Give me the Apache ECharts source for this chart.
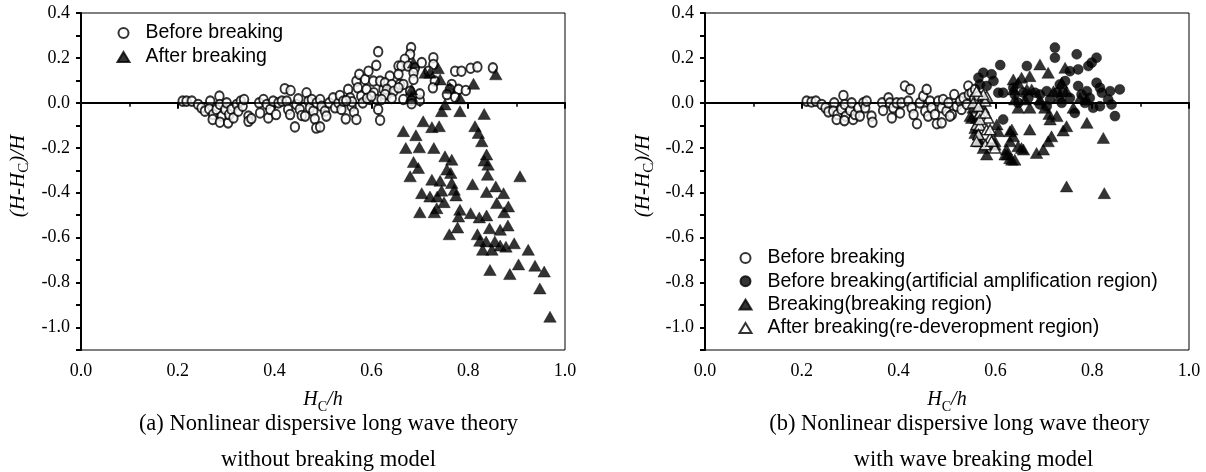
<!DOCTYPE html>
<html>
<head>
<meta charset="utf-8">
<script src="https://cdn.jsdelivr.net/npm/echarts@6/dist/echarts.min.js"></script>
<style>
  html, body { margin: 0; padding: 0; background: #fff; }
  #chart { width: 1206px; height: 472px; }
</style>
</head>
<body>
<div id="chart"></div>
<script>
// ---------------- DATA ----------------
const xTicks = [0.0, 0.2, 0.4, 0.6, 0.8, 1.0];
const yTicks = [0.4, 0.2, 0.0, -0.2, -0.4, -0.6, -0.8, -1.0];

const seriesNamesA = ['Before breaking', 'After breaking'];
const seriesNamesB = ['Before breaking', 'Before breaking(artificial amplification region)', 'Breaking(breaking region)', 'After breaking(re-deveropment region)'];

// Panel (a): [H_C/h, (H-H_C)/H]
const aBefore = [
  [0.210,0.008],[0.218,0.008],[0.229,0.008],[0.242,-0.007],[0.249,-0.022],[0.256,-0.037],[0.267,0.008],[0.265,-0.027],
  [0.273,-0.052],[0.272,-0.074],[0.280,-0.029],[0.286,0.030],[0.287,-0.007],[0.291,-0.059],[0.287,-0.086],[0.298,-0.029],
  [0.301,0.000],[0.304,-0.089],[0.306,-0.052],[0.311,-0.029],[0.315,-0.067],[0.322,-0.007],[0.325,-0.037],[0.330,0.008],
  [0.334,-0.015],[0.337,0.015],[0.346,-0.059],[0.346,-0.082],[0.352,-0.070],[0.368,0.000],[0.370,-0.045],[0.377,0.015],
  [0.384,-0.007],[0.387,-0.067],[0.391,-0.029],[0.397,0.008],[0.403,-0.052],[0.408,0.000],[0.415,0.008],[0.421,0.063],
  [0.433,0.055],[0.425,0.008],[0.428,-0.029],[0.432,-0.052],[0.442,-0.107],[0.445,-0.007],[0.449,0.018],[0.452,-0.029],
  [0.456,-0.056],[0.463,-0.059],[0.466,0.045],[0.470,0.008],[0.473,-0.022],[0.477,0.015],[0.480,-0.037],[0.483,-0.071],
  [0.486,-0.112],[0.494,-0.107],[0.487,0.000],[0.494,0.015],[0.497,-0.015],[0.504,-0.037],[0.507,-0.059],[0.513,0.000],
  [0.521,0.022],[0.525,-0.022],[0.532,0.000],[0.535,0.033],[0.538,-0.029],[0.542,0.008],[0.547,-0.071],[0.552,0.060],
  [0.556,0.022],[0.559,-0.015],[0.564,-0.041],[0.569,-0.074],[0.569,0.097],[0.572,0.067],[0.575,0.127],[0.579,0.030],
  [0.582,0.000],[0.587,0.104],[0.590,0.060],[0.594,0.141],[0.597,0.015],[0.604,0.097],[0.605,0.045],[0.610,0.167],
  [0.611,0.015],[0.614,-0.029],[0.618,-0.077],[0.618,0.097],[0.625,0.060],[0.632,0.037],[0.614,0.228],[0.682,0.246],
  [0.680,0.216],[0.669,0.194],[0.656,0.164],[0.662,0.164],[0.676,0.164],[0.690,0.156],[0.704,0.179],[0.728,0.201],
  [0.728,0.171],[0.718,0.141],[0.687,0.134],[0.638,0.119],[0.656,0.127],[0.628,0.089],[0.642,0.082],[0.659,0.082],
  [0.666,0.082],[0.687,0.104],[0.731,0.097],[0.727,0.067],[0.766,0.082],[0.762,0.060],[0.780,0.060],[0.795,0.055],
  [0.756,0.037],[0.773,0.025],[0.632,0.060],[0.646,0.052],[0.656,0.067],[0.628,0.037],[0.642,0.020],[0.666,0.015],
  [0.683,0.011],[0.700,0.011],[0.680,0.052],[0.700,0.040],[0.621,0.015],[0.683,-0.004],[0.773,0.141],[0.786,0.141],
  [0.805,0.154],[0.819,0.160],[0.851,0.156],[0.591,0.020],[0.600,0.030],[0.560,0.005],[0.548,0.010]
];
const aAfter = [
  [0.857,0.127],[0.811,0.085],[0.783,0.020],[0.752,-0.007],[0.745,-0.037],[0.783,-0.037],[0.833,-0.049],[0.707,-0.082],
  [0.725,-0.108],[0.740,-0.104],[0.666,-0.126],[0.692,-0.144],[0.814,-0.104],[0.821,-0.134],[0.828,-0.171],[0.671,-0.201],
  [0.699,-0.198],[0.729,-0.201],[0.752,-0.238],[0.766,-0.253],[0.838,-0.230],[0.833,-0.257],[0.841,-0.275],[0.687,-0.263],
  [0.697,-0.290],[0.756,-0.297],[0.764,-0.312],[0.680,-0.327],[0.840,-0.320],[0.907,-0.327],[0.725,-0.342],[0.742,-0.347],
  [0.766,-0.357],[0.809,-0.362],[0.857,-0.372],[0.771,-0.387],[0.704,-0.402],[0.721,-0.417],[0.745,-0.391],[0.838,-0.397],
  [0.873,-0.402],[0.736,-0.417],[0.775,-0.412],[0.750,-0.442],[0.859,-0.446],[0.883,-0.461],[0.735,-0.469],[0.700,-0.487],
  [0.730,-0.487],[0.783,-0.476],[0.805,-0.491],[0.823,-0.510],[0.838,-0.501],[0.874,-0.487],[0.780,-0.506],[0.778,-0.555],
  [0.761,-0.585],[0.844,-0.558],[0.866,-0.565],[0.882,-0.546],[0.819,-0.585],[0.824,-0.614],[0.837,-0.617],[0.855,-0.617],
  [0.866,-0.635],[0.878,-0.640],[0.895,-0.625],[0.830,-0.654],[0.849,-0.654],[0.924,-0.654],[0.904,-0.719],[0.938,-0.725],
  [0.845,-0.744],[0.886,-0.762],[0.957,-0.751],[0.948,-0.826],[0.969,-0.952],[0.687,0.179],[0.711,0.134],[0.738,0.154],
  [0.742,0.104],[0.683,0.060],[0.683,0.030],[0.721,0.134],[0.762,0.067]
];

// Panel (b)
const bBefore = [
  [0.210,0.008],[0.220,0.004],[0.229,0.008],[0.241,-0.007],[0.249,-0.022],[0.255,-0.040],[0.267,0.000],[0.265,-0.037],
  [0.274,-0.052],[0.272,-0.074],[0.282,-0.029],[0.286,0.033],[0.289,-0.007],[0.291,-0.059],[0.288,-0.079],[0.300,-0.034],
  [0.303,0.000],[0.306,-0.074],[0.310,-0.052],[0.317,-0.022],[0.320,-0.059],[0.327,0.000],[0.331,-0.022],[0.334,0.008],
  [0.344,-0.059],[0.346,-0.086],[0.366,0.000],[0.368,-0.034],[0.379,0.022],[0.382,0.000],[0.386,-0.067],[0.389,-0.022],
  [0.396,0.000],[0.403,-0.045],[0.406,0.000],[0.413,0.075],[0.424,0.060],[0.420,0.008],[0.427,-0.022],[0.431,-0.052],
  [0.438,-0.093],[0.444,0.000],[0.451,0.030],[0.455,-0.037],[0.458,0.060],[0.461,-0.059],[0.465,0.008],[0.468,-0.022],
  [0.475,-0.052],[0.479,-0.093],[0.489,-0.089],[0.482,0.008],[0.489,-0.022],[0.492,0.015],[0.499,-0.037],[0.503,0.000],
  [0.510,-0.052],[0.515,0.037],[0.520,-0.015],[0.527,0.008],[0.530,-0.029],[0.534,0.022],[0.544,0.075],[0.541,-0.007],
  [0.545,0.037],[0.551,0.045],[0.558,0.060],[0.556,0.020],[0.562,0.000],[0.565,0.030],[0.506,-0.059]
];
const bAmplified = [
  [0.723,0.246],[0.723,0.201],[0.768,0.216],[0.809,0.201],[0.799,0.179],[0.792,0.164],[0.610,0.168],[0.665,0.164],
  [0.754,0.141],[0.771,0.149],[0.575,0.134],[0.592,0.127],[0.596,0.097],[0.565,0.112],[0.568,0.082],[0.582,0.075],
  [0.616,0.045],[0.606,0.045],[0.637,0.067],[0.640,0.037],[0.658,0.045],[0.668,0.022],[0.682,0.045],[0.692,0.037],
  [0.706,0.052],[0.713,0.015],[0.727,0.045],[0.733,0.082],[0.744,0.097],[0.740,0.045],[0.754,0.022],[0.771,0.075],
  [0.778,0.037],[0.789,0.052],[0.795,0.022],[0.809,0.089],[0.816,0.067],[0.820,0.045],[0.837,0.052],[0.857,0.060],
  [0.833,0.015],[0.840,-0.007],[0.847,-0.059],[0.802,-0.022],[0.764,-0.045],[0.816,-0.015],[0.706,-0.015],[0.616,-0.074],
  [0.692,-0.007],[0.647,0.000],[0.785,0.000],[0.737,0.000]
];
const bBreaking = [
  [0.692,0.171],[0.709,0.134],[0.744,0.156],[0.637,0.104],[0.654,0.112],[0.671,0.119],[0.647,0.089],[0.640,0.015],
  [0.661,0.015],[0.647,-0.022],[0.671,-0.022],[0.692,0.015],[0.720,0.052],[0.733,0.030],[0.702,-0.022],[0.713,-0.074],
  [0.727,-0.059],[0.711,-0.049],[0.747,-0.104],[0.740,-0.123],[0.789,-0.089],[0.761,-0.022],[0.775,0.022],[0.789,0.015],
  [0.671,-0.119],[0.630,-0.126],[0.637,-0.149],[0.630,-0.171],[0.647,-0.193],[0.658,-0.208],[0.623,-0.208],[0.620,-0.230],
  [0.630,-0.246],[0.640,-0.253],[0.685,-0.223],[0.699,-0.208],[0.709,-0.171],[0.716,-0.149],[0.823,-0.156],[0.747,-0.372],
  [0.825,-0.402],[0.737,0.089],[0.747,0.052],[0.675,0.060],[0.665,0.060],[0.637,0.060],[0.551,-0.067],[0.558,-0.134],
  [0.565,-0.171],[0.582,-0.230],[0.599,-0.186],[0.575,-0.022],[0.561,-0.067],[0.558,-0.112],[0.565,-0.141],[0.568,-0.171],
  [0.575,-0.201],[0.603,-0.096],[0.606,-0.126],[0.599,-0.171],[0.554,-0.022],[0.548,-0.059],[0.634,-0.119],[0.625,-0.230],
  [0.634,-0.253],[0.654,-0.201]
];
const bAfter = [
  [0.582,0.030],[0.579,0.008],[0.568,-0.045],[0.585,-0.067],[0.561,-0.096],[0.568,-0.100],[0.582,-0.119],[0.565,-0.141],
  [0.589,-0.156],[0.579,-0.186],[0.599,-0.201],[0.561,-0.171],[0.568,-0.074],[0.554,0.000],[0.565,-0.015],[0.579,-0.045],
  [0.589,-0.119],[0.592,-0.171],[0.575,0.037],[0.561,0.052]
];

// ---------------- STYLE / LAYOUT ----------------
const SERIF = '"Liberation Serif", "Times New Roman", serif';
const SANS = '"Liberation Sans", Arial, sans-serif';
const GRIDS = [
  { left: 81, top: 13, width: 484, height: 337 },
  { left: 705, top: 13, width: 484, height: 337 }
];

const measureCtx = document.createElement('canvas').getContext('2d');
function textWidth(str, font) { measureCtx.font = font; return measureCtx.measureText(str).width; }

// builds a math label like (H-H_C)/H from pieces
function mathPieces(pieces, fs, subFs, subShift) {
  const children = [];
  let x = 0;
  pieces.forEach(p => {
    const size = p.sub ? subFs : fs;
    const style = p.it ? 'italic' : 'normal';
    const font = style + ' ' + size + 'px ' + SERIF;
    children.push({
      type: 'text', x: x, y: p.sub ? subShift : 0,
      style: { text: p.t, font: font, fill: '#000', verticalAlign: 'middle', align: 'left' }
    });
    x += textWidth(p.t, font);
  });
  return { children, width: x };
}

function yTitle(cx, cy) {
  const m = mathPieces([{ t: '(H-H', it: true }, { t: 'C', sub: true }, { t: ')/H', it: true }], 21, 15, 6);
  return { type: 'group', x: cx, y: cy + m.width / 2, rotation: Math.PI / 2, children: m.children };
}
function xTitle(cx, cy) {
  const m = mathPieces([{ t: 'H', it: true }, { t: 'C', sub: true }, { t: '/h', it: true }], 20, 14, 7);
  return { type: 'group', x: cx - m.width / 2, y: cy, children: m.children };
}
function caption(cx, cy, str) {
  return { type: 'text', x: cx, y: cy, style: { text: str, font: '22.5px ' + SERIF, fill: '#000', align: 'center', verticalAlign: 'middle' } };
}

function makeX(gi) {
  return {
    type: 'value', gridIndex: gi, min: 0, max: 1, interval: 0.2,
    axisLine: { lineStyle: { color: '#000', width: 2 } },
    axisTick: { inside: false, length: 6, lineStyle: { color: '#000', width: 2 } },
    minorTick: { show: true, splitNumber: 2, length: 4, lineStyle: { color: '#000', width: 1.5 } },
    axisLabel: { color: '#000', fontFamily: SERIF, fontSize: 18, margin: 12, formatter: v => v.toFixed(1) },
    splitLine: { show: false }
  };
}
function makeY(gi) {
  return {
    type: 'value', gridIndex: gi, min: -1.1, max: 0.4, interval: 0.1,
    axisLine: { lineStyle: { color: '#000', width: 2 } },
    axisTick: { inside: false, length: 5, lineStyle: { color: '#000', width: 2 } },
    axisLabel: {
      color: '#000', fontFamily: SERIF, fontSize: 18, margin: 11,
      formatter: v => { const k = Math.round(v * 10); return (k % 2 === 0) ? (k / 10).toFixed(1) : ''; }
    },
    splitLine: { show: false }
  };
}

const openCircle = { symbol: 'circle', symbolSize: [8.5, 9.5], itemStyle: { color: '#fff', borderColor: '#000', borderWidth: 2 } };
const fillCircle = { symbol: 'circle', symbolSize: 10, itemStyle: { color: '#000', borderColor: '#000', borderWidth: 0.5 } };
const fillTri = { symbol: 'triangle', symbolSize: [12.5, 11], itemStyle: { color: '#000', borderColor: '#000', borderWidth: 0.5 } };
const openTri = { symbol: 'triangle', symbolSize: [11, 10], itemStyle: { color: '#fff', borderColor: '#000', borderWidth: 1.5 } };

function scatter(name, data, gi, look, extra) {
  return Object.assign({ type: 'scatter', name, data, xAxisIndex: gi, yAxisIndex: gi, animation: false, z: 3 }, look, extra || {});
}
const zeroLine = {
  silent: true, symbol: 'none', label: { show: false }, animation: false,
  lineStyle: { color: '#000', width: 1.5, type: 'solid' }, data: [{ yAxis: 0 }]
};

const legendText = { color: '#000', fontFamily: SANS, fontSize: 19.5, lineHeight: 20, padding: [0, 0, 0, 11] };

const option = {
  backgroundColor: '#fff',
  animation: false,
  grid: GRIDS.map(g => Object.assign({ show: true, borderColor: '#000', borderWidth: 1, backgroundColor: 'transparent' }, g)),
  xAxis: [makeX(0), makeX(1)],
  yAxis: [makeY(0), makeY(1)],
  legend: [
    { orient: 'vertical', left: 111.5, top: 18, itemWidth: 12, itemHeight: 10, itemGap: 4, textStyle: legendText,
      data: [seriesNamesA[0], seriesNamesA[1]], selectedMode: false },
    { orient: 'vertical', left: 733.5, top: 243, itemWidth: 12, itemHeight: 10, itemGap: 3.3, textStyle: legendText,
      data: seriesNamesB, selectedMode: false }
  ],
  series: [
    scatter(seriesNamesA[0], aBefore, 0, openCircle, { markLine: zeroLine }),
    scatter(seriesNamesA[1], aAfter, 0, fillTri),
    scatter(seriesNamesB[0], bBefore, 1, openCircle, { markLine: zeroLine }),
    scatter(seriesNamesB[1], bAmplified, 1, fillCircle),
    scatter(seriesNamesB[2], bBreaking, 1, fillTri),
    scatter(seriesNamesB[3], bAfter, 1, openTri)
  ],
  graphic: [
    yTitle(18, 176),
    yTitle(643, 176),
    xTitle(323, 400),
    xTitle(947, 400),
    caption(328.5, 424, '(a) Nonlinear dispersive long wave theory'),
    caption(328.5, 460, 'without breaking model'),
    caption(959.5, 424, '(b) Nonlinear dispersive long wave theory'),
    caption(973.5, 460, 'with wave breaking model')
  ]
};

const chart = echarts.init(document.getElementById('chart'), null, { renderer: 'canvas' });
chart.setOption(option);
</script>
</body>
</html>
